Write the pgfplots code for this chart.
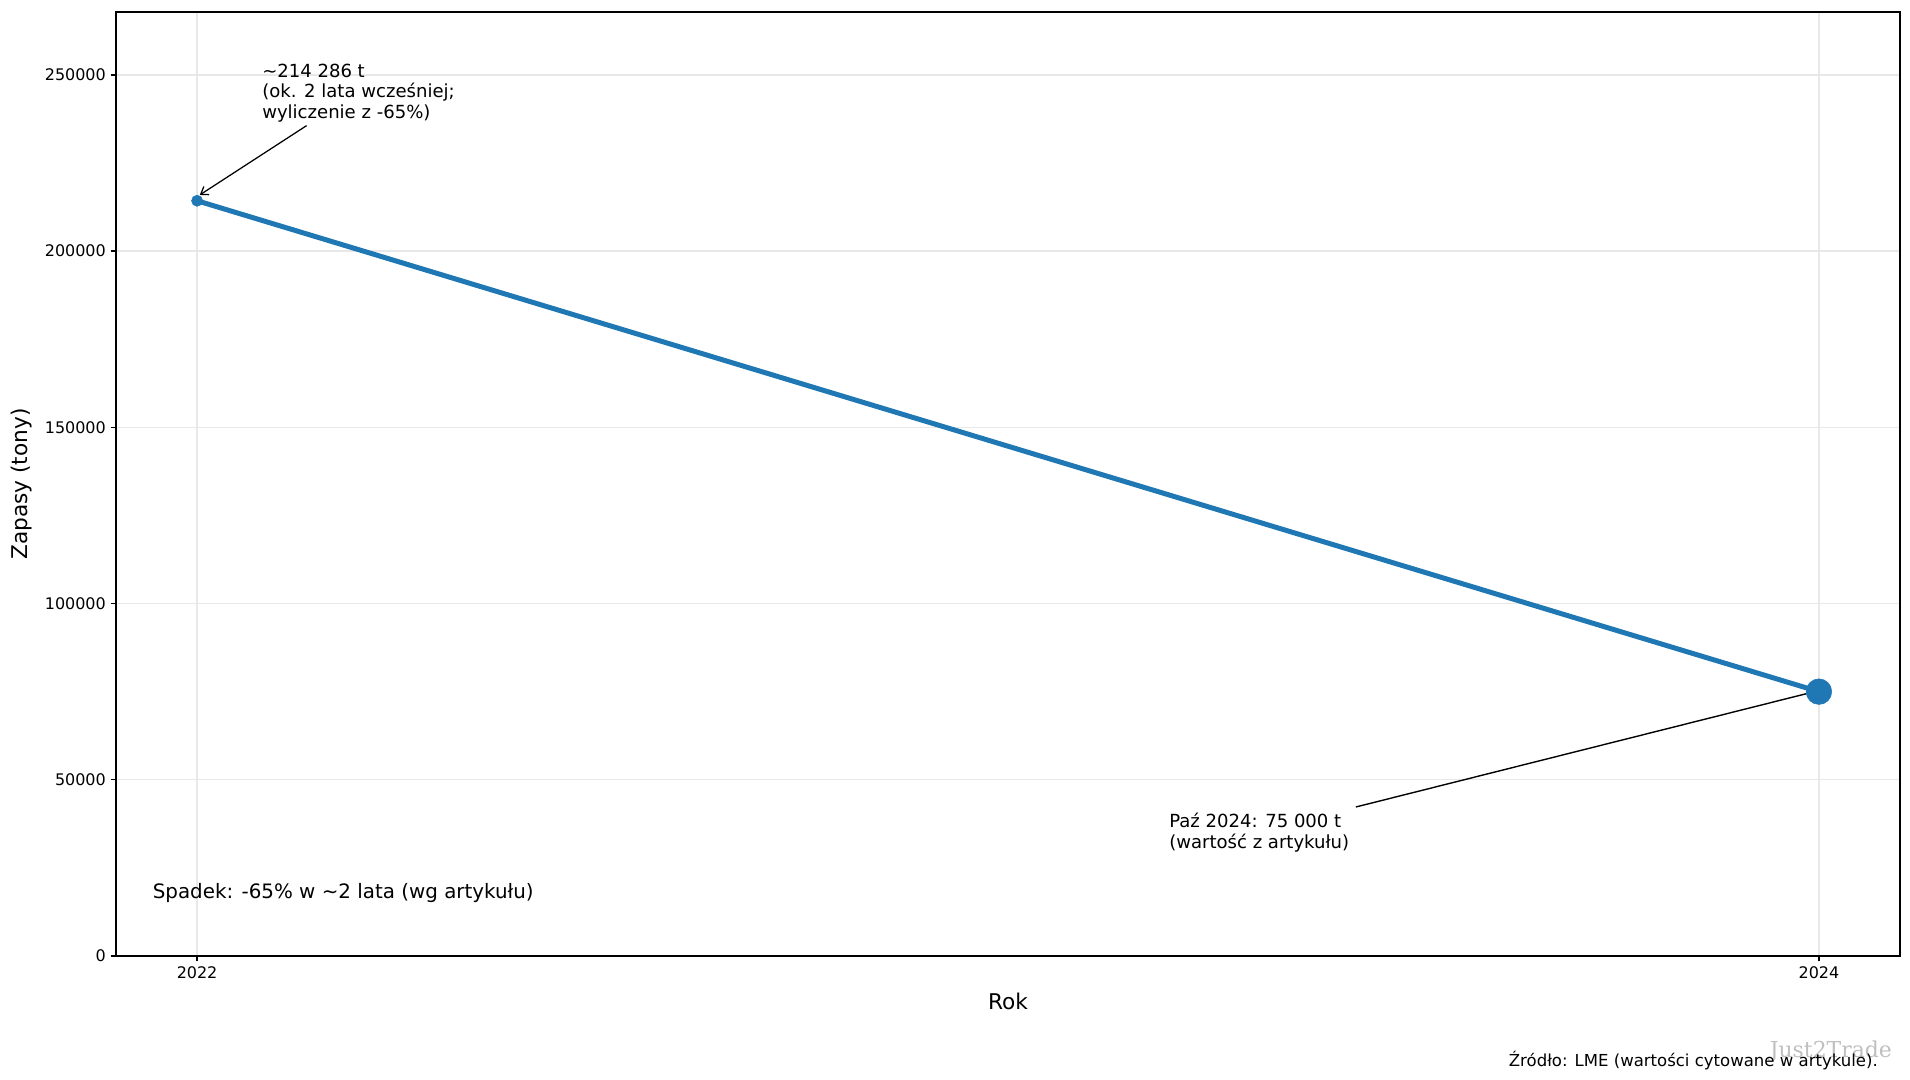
\documentclass[border=0pt]{standalone}
\usepackage{pgfplots}
\pgfplotsset{compat=1.18}
\usetikzlibrary{arrows.meta}
\usepackage{fontspec}
\setmainfont{DejaVu Sans}
\newfontfamily\wmfont{DejaVu Serif}
\definecolor{mplblue}{HTML}{1F77B4}
\begin{document}
\begin{tikzpicture}
\path[use as bounding box] (0,0) rectangle (1375.2pt,777.6pt);
\begin{axis}[
  at={(83.52pt,89.28pt)}, anchor=south west,
  scale only axis, width=1284.5pt, height=679.7pt,
  xmin=2021.9, xmax=2024.1, ymin=0, ymax=267857,
  xtick={2022,2024}, xticklabels={2022,2024},
  ytick={0,50000,100000,150000,200000,250000},
  yticklabels={0,50000,100000,150000,200000,250000},
  scaled y ticks=false,
  /pgf/number format/assume math mode=true,
  tick align=outside, major tick length=3.8pt,
  tick style={black, line width=0.9pt},
  xtick pos=bottom, ytick pos=left,
  axis line style={line width=0.9pt},
  ticklabel style={font=\fontsize{11.5}{13}\selectfont},
  grid=major, grid style={gray!18, line width=0.9pt},
  xlabel={Rok}, ylabel={Zapasy (tony)},
  label style={font=\fontsize{15.6}{17}\selectfont},
  xlabel style={at={(axis description cs:0.5,-0.0477)}, anchor=center},
  ylabel style={at={(axis description cs:-0.0532,0.5)}, anchor=center},
  clip=false,
]
\addplot[mplblue, line width=3.6pt, mark=none] coordinates {(2022,214286) (2024,75000)};
\addplot[only marks, mark=*, mark size=4pt, mplblue] coordinates {(2022,214286)};
\addplot[only marks, mark=*, mark size=9.2pt, mplblue] coordinates {(2024,75000)};
\draw[-{Straight Barb[length=5pt,width=7pt]}, black, line width=0.9pt] (axis cs:2022.135,235600) -- (axis cs:2022.0033,215934);
\node[anchor=north west, align=left, inner sep=0pt, font=\fontsize{13}{15}\selectfont]
  at (axis cs:2022.080,253250) {\textasciitilde 214 286 t\\(ok. 2 lata wcześniej;\\wyliczenie z -65\%)};
\draw[black, line width=1pt] (axis cs:2023.429,42280) -- (axis cs:2023.988,74626);
\node[anchor=north west, align=left, inner sep=0pt, font=\fontsize{13}{15.1}\selectfont]
  at (axis cs:2023.1985,40630) {Paź 2024: 75 000 t\\(wartość z artykułu)};
\node[anchor=base west, inner sep=0pt, font=\fontsize{14.3}{16}\selectfont]
  at (axis cs:2021.945,16372) {Spadek: -65\% w \textasciitilde 2 lata (wg artykułu)};
\end{axis}
\node[anchor=base east, inner sep=0pt, text=gray!50, font=\wmfont\fontsize{15.8}{17}\selectfont] at (1362.4pt,16.4pt) {Just2Trade};
\node[anchor=base east, inner sep=0pt, font=\fontsize{11.9}{14}\selectfont] at (1352.2pt,10.0pt) {Źródło: LME (wartości cytowane w artykule).};
\end{tikzpicture}
\end{document}
